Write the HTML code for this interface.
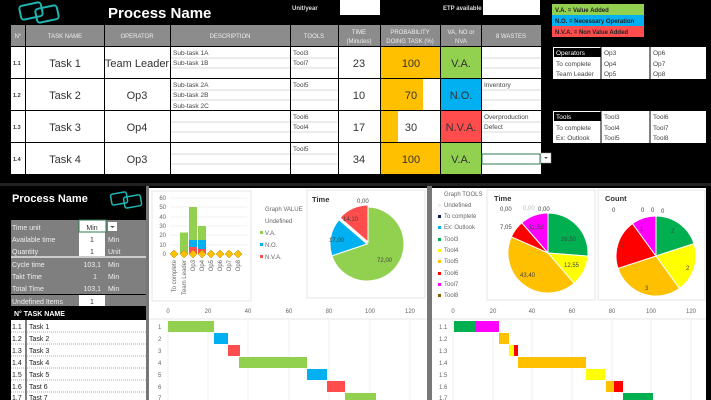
<!DOCTYPE html>
<html><head><meta charset="utf-8"><style>
html,body{margin:0;padding:0;background:#000;}
svg{display:block;font-family:"Liberation Sans",sans-serif;}
</style></head><body>
<svg width="711" height="400" viewBox="0 0 711 400" xmlns="http://www.w3.org/2000/svg">
<rect width="711" height="400" fill="#000"/>
<!-- TOP -->
<g fill="none" stroke="#1fb5b0" stroke-width="2"><rect x="20" y="4" width="22" height="14" rx="3" transform="rotate(-12 31 11)"/><rect x="36" y="7" width="22" height="14" rx="3" transform="rotate(-12 47 14)"/></g>
<text x="108" y="18" fill="#fff" font-size="15" font-weight="bold">Process Name</text>
<text x="292" y="10" fill="#ddd" font-size="6" font-weight="bold">Unit/year</text>
<rect x="340" y="0" width="40" height="15" fill="#fff"/>
<text x="443" y="10" fill="#ddd" font-size="6" font-weight="bold">ETP available</text>
<rect x="483" y="0" width="57" height="15" fill="#fff"/>
<rect x="552" y="4" width="92" height="11" fill="#92d050"/><rect x="552" y="15" width="92" height="11" fill="#00b0f0"/><rect x="552" y="26" width="92" height="11" fill="#ff4d4d"/>
<g font-size="6" font-weight="bold" fill="#222"><text x="555" y="12">V.A. = Value Added</text><text x="555" y="23">N.O. = Necessary Operation</text><text x="555" y="34">N.V.A. = Non Value Added</text></g>
<!-- header -->
<g fill="#8c8c8c"><rect x="11" y="25" width="14" height="21"/><rect x="26" y="25" width="78" height="21"/><rect x="105" y="25" width="65" height="21"/><rect x="171" y="25" width="119" height="21"/><rect x="291" y="25" width="47" height="21"/><rect x="339" y="25" width="41" height="21"/><rect x="381" y="25" width="59" height="21"/><rect x="441" y="25" width="40" height="21"/><rect x="482" y="25" width="59" height="21"/></g>
<g fill="#eee" font-size="6" text-anchor="middle"><text x="18" y="38">N°</text><text x="65" y="38">TASK NAME</text><text x="137" y="38">OPERATOR</text><text x="230" y="38">DESCRIPTION</text><text x="314" y="38">TOOLS</text><text x="359" y="34">TIME</text><text x="359" y="43">(Minutes)</text><text x="410" y="34">PROBABILITY</text><text x="410" y="43">DOING TASK (%)</text><text x="461" y="34">VA, NO or</text><text x="461" y="43">NVA</text><text x="511" y="38">8 WASTES</text></g>
<!-- rows -->
<g id="rows">
<g fill="#fff">
<rect x="11" y="47" width="14" height="31"/><rect x="26" y="47" width="78" height="31"/><rect x="105" y="47" width="65" height="31"/><rect x="171" y="47" width="119" height="31"/><rect x="291" y="47" width="47" height="31"/><rect x="339" y="47" width="41" height="31"/><rect x="381" y="47" width="59" height="31"/><rect x="482" y="47" width="59" height="31"/>
<rect x="11" y="79" width="14" height="31"/><rect x="26" y="79" width="78" height="31"/><rect x="105" y="79" width="65" height="31"/><rect x="171" y="79" width="119" height="31"/><rect x="291" y="79" width="47" height="31"/><rect x="339" y="79" width="41" height="31"/><rect x="381" y="79" width="59" height="31"/><rect x="482" y="79" width="59" height="31"/>
<rect x="11" y="111" width="14" height="31"/><rect x="26" y="111" width="78" height="31"/><rect x="105" y="111" width="65" height="31"/><rect x="171" y="111" width="119" height="31"/><rect x="291" y="111" width="47" height="31"/><rect x="339" y="111" width="41" height="31"/><rect x="381" y="111" width="59" height="31"/><rect x="482" y="111" width="59" height="31"/>
<rect x="11" y="143" width="14" height="31"/><rect x="26" y="143" width="78" height="31"/><rect x="105" y="143" width="65" height="31"/><rect x="171" y="143" width="119" height="31"/><rect x="291" y="143" width="47" height="31"/><rect x="339" y="143" width="41" height="31"/><rect x="381" y="143" width="59" height="31"/><rect x="482" y="143" width="59" height="31"/>
</g>
<rect x="381" y="47" width="59" height="31" fill="#ffc000"/><rect x="381" y="79" width="42" height="31" fill="#ffc000"/><rect x="381" y="111" width="17" height="31" fill="#ffc000"/><rect x="381" y="143" width="59" height="31" fill="#ffc000"/>
<rect x="441" y="47" width="40" height="31" fill="#92d050"/><rect x="441" y="79" width="40" height="31" fill="#00b0f0"/><rect x="441" y="111" width="40" height="31" fill="#ff4d4d"/><rect x="441" y="143" width="40" height="31" fill="#92d050"/>
<g stroke="#ccc" stroke-width="0.7">
<path d="M171 58H290M171 68H290M291 58H338M291 68H338M482 58H541M482 68H541M171 90H290M171 100H290M291 90H338M291 100H338M482 90H541M482 100H541M171 122H290M171 132H290M291 122H338M291 132H338M482 122H541M482 132H541M171 154H290M171 164H290M291 154H338M291 164H338M482 154H541M482 164H541"/>
</g>
<rect x="482" y="154" width="58" height="10" fill="none" stroke="#2e7d4f" stroke-width="1"/>
<rect x="541" y="153" width="10" height="10" fill="#fff" stroke="#999" stroke-width="0.5"/><path d="M544 157h4l-2 2z" fill="#555"/>
<g font-size="5.5" fill="#333" font-weight="bold"><text x="13" y="65">1.1</text><text x="13" y="97">1.2</text><text x="13" y="129">1.3</text><text x="13" y="161">1.4</text></g>
<g font-size="11" fill="#333" text-anchor="middle"><text x="65" y="67">Task 1</text><text x="65" y="99">Task 2</text><text x="65" y="131">Task 3</text><text x="65" y="163">Task 4</text>
<text x="137" y="67">Team Leader</text><text x="137" y="99">Op3</text><text x="137" y="131">Op4</text><text x="137" y="163">Op3</text>
<text x="359" y="67">23</text><text x="359" y="99">10</text><text x="359" y="131">17</text><text x="359" y="163">34</text>
<text x="411" y="67">100</text><text x="411" y="99">70</text><text x="411" y="131">30</text><text x="411" y="163">100</text>
<text x="461" y="67">V.A.</text><text x="461" y="99">N.O.</text><text x="461" y="131">N.V.A.</text><text x="461" y="163">V.A.</text></g>
<g font-size="6.5" fill="#444"><text x="173" y="55">Sub-task 1A</text><text x="173" y="65">Sub-task 1B</text><text x="173" y="87">Sub-task 2A</text><text x="173" y="97">Sub-task 2B</text><text x="173" y="108">Sub-task 2C</text>
<text x="293" y="55">Tool3</text><text x="293" y="65">Tool7</text><text x="293" y="87">Tool5</text><text x="293" y="119">Tool6</text><text x="293" y="129">Tool4</text><text x="293" y="151">Tool5</text>
<text x="484" y="87">Inventory</text><text x="484" y="119">Overproduction</text><text x="484" y="129">Defect</text></g>
</g>
<!-- operators/tools boxes -->
<rect x="553" y="47" width="153" height="32" fill="#fff"/><rect x="553" y="111" width="153" height="32" fill="#fff"/>
<rect x="554" y="48" width="47" height="9" fill="#000"/><rect x="554" y="112" width="47" height="9" fill="#000"/>
<path d="M601 47V79M650 47V79M601 111V143M650 111V143" stroke="#000" stroke-width="1"/>
<g font-size="6.5" fill="#444"><text x="556" y="55" fill="#fff">Operators</text><text x="556" y="66">To complete</text><text x="556" y="76">Team Leader</text><text x="604" y="55">Op3</text><text x="604" y="66">Op4</text><text x="604" y="76">Op5</text><text x="653" y="55">Op6</text><text x="653" y="66">Op7</text><text x="653" y="76">Op8</text>
<text x="556" y="119" fill="#fff">Tools</text><text x="556" y="130">To complete</text><text x="556" y="140">Ex: Outlook</text><text x="604" y="119">Tool3</text><text x="604" y="130">Tool4</text><text x="604" y="140">Tool5</text><text x="653" y="119">Tool6</text><text x="653" y="130">Tool7</text><text x="653" y="140">Tool8</text></g>

<!-- BOTTOM -->
<rect x="0" y="183" width="711" height="3" fill="#222"/>
<text x="12" y="202" fill="#fff" font-size="11" font-weight="bold">Process Name</text>
<g fill="none" stroke="#1fb5b0" stroke-width="1.5"><rect x="111" y="193" width="16" height="11" rx="2" transform="rotate(-10 119 198)"/><rect x="124" y="196" width="17" height="11" rx="2" transform="rotate(-10 132 201)"/></g>
<rect x="11" y="220" width="136" height="74" fill="#7f7f7f"/>
<rect x="11" y="256" width="136" height="2" fill="#ccc"/>
<rect x="79" y="220" width="26" height="36" fill="#fff"/>
<rect x="79" y="220" width="27" height="12" fill="#fff" stroke="#2e7d4f" stroke-width="1"/>
<rect x="108" y="222" width="9" height="9" fill="#fff"/><path d="M110 226h5l-2.5 2z" fill="#555"/>
<rect x="11" y="295" width="136" height="11" fill="#7f7f7f"/><rect x="79" y="295" width="26" height="11" fill="#fff"/>
<g font-size="7" fill="#eee"><text x="12" y="230">Time unit</text><text x="12" y="242">Available time</text><text x="12" y="254">Quantity</text><text x="12" y="267">Cycle time</text><text x="12" y="279">Takt Time</text><text x="12" y="291">Total Time</text><text x="12" y="304">Undefined Items</text>
<text x="108" y="242">Min</text><text x="108" y="254">Unit</text><text x="108" y="267">Min</text><text x="108" y="279">Min</text><text x="108" y="291">Min</text>
<text x="101" y="267" text-anchor="end">103,1</text><text x="97" y="279" text-anchor="end">1</text><text x="101" y="291" text-anchor="end">103,1</text></g>
<g font-size="7" fill="#333" text-anchor="middle"><text x="92" y="230">Min</text><text x="92" y="242">1</text><text x="92" y="254">1</text><text x="92" y="304">1</text></g>
<text x="14" y="316" fill="#fff" font-size="7" font-weight="bold">N°  TASK NAME</text>
<rect x="11" y="320" width="135" height="80" fill="#fff"/>
<path d="M26 320V400" stroke="#000" stroke-width="1"/>
<g stroke="#555" stroke-width="0.6" stroke-dasharray="1,1"><path d="M11 332H146M11 344H146M11 356H146M11 368H146M11 380H146M11 392H146"/></g>
<g font-size="7" fill="#222"><text x="12" y="329">1.1</text><text x="29" y="329">Task 1</text><text x="12" y="341">1.2</text><text x="29" y="341">Task 2</text><text x="12" y="353">1.3</text><text x="29" y="353">Task 3</text><text x="12" y="365">1.4</text><text x="29" y="365">Task 4</text><text x="12" y="377">1.5</text><text x="29" y="377">Task 5</text><text x="12" y="389">1.6</text><text x="29" y="389">Tast 6</text><text x="12" y="400">1.7</text><text x="29" y="400">Tast 7</text></g>
<rect x="146" y="186" width="3" height="214" fill="#777"/>

<!-- middle chart area -->
<rect x="149" y="188" width="278" height="212" fill="#fff"/>
<rect x="152" y="191" width="99" height="110" fill="#fff" stroke="#e4e4e4"/>
<rect x="307" y="190" width="118" height="108" fill="#fff" stroke="#e4e4e4"/>
<g stroke="#e6e6e6" stroke-width="0.6"><path d="M170 198H247M170 207H247M170 217H247M170 226H247M170 235H247M170 245H247M170 254H247"/></g>
<g font-size="6" fill="#666" text-anchor="end"><text x="166" y="200">60</text><text x="166" y="209">50</text><text x="166" y="219">40</text><text x="166" y="228">30</text><text x="166" y="237">20</text><text x="166" y="247">10</text><text x="166" y="256">0</text></g>
<rect x="180" y="232.5" width="8" height="21.5" fill="#92d050"/>
<rect x="189" y="207" width="8" height="47" fill="#92d050"/><rect x="189" y="240" width="8" height="14" fill="#00b0f0"/><rect x="189" y="247" width="8" height="7" fill="#ff4d4d"/>
<rect x="198" y="226" width="8" height="28" fill="#92d050"/><rect x="198" y="240" width="8" height="14" fill="#00b0f0"/><rect x="198" y="249" width="8" height="5" fill="#ff4d4d"/>
<g fill="#ffc000" stroke="#b8860b" stroke-width="0.5">
<path d="M174 250l4 4-4 4-4-4z"/><path d="M184 250l4 4-4 4-4-4z"/><path d="M193 250l4 4-4 4-4-4z"/><path d="M202 250l4 4-4 4-4-4z"/><path d="M211 250l4 4-4 4-4-4z"/><path d="M220 250l4 4-4 4-4-4z"/><path d="M229 250l4 4-4 4-4-4z"/><path d="M238 250l4 4-4 4-4-4z"/></g>
<g font-size="6" fill="#666" text-anchor="end">
<text transform="translate(176,260) rotate(-90)">To complete</text><text transform="translate(186,260) rotate(-90)">Team Leader</text><text transform="translate(195,260) rotate(-90)">Op3</text><text transform="translate(204,260) rotate(-90)">Op4</text><text transform="translate(213,260) rotate(-90)">Op5</text><text transform="translate(222,260) rotate(-90)">Op6</text><text transform="translate(231,260) rotate(-90)">Op7</text><text transform="translate(240,260) rotate(-90)">Op8</text></g>
<g font-size="6" fill="#666"><text x="265" y="211">Graph VALUE</text><text x="265" y="223">Undefined</text><text x="265" y="235">V.A.</text><text x="265" y="247">N.O.</text><text x="265" y="259">N.V.A.</text></g>
<rect x="260" y="231" width="3" height="3" fill="#92d050"/><rect x="260" y="243" width="3" height="3" fill="#00b0f0"/><rect x="260" y="255" width="3" height="3" fill="#ff4d4d"/>
<text x="312" y="202" font-size="7.5" fill="#333" font-weight="bold">Time</text>
<text x="357" y="203" font-size="6" fill="#444">0,00</text>
<g stroke="#fff" stroke-width="1">
<path d="M367 244L367 207A37 37 0 1 1 331.9 255.8Z" fill="#92d050"/>
<path d="M367 244L331.9 255.8A37 37 0 0 1 339 219.8Z" fill="#00b0f0"/>
<path d="M368 242L340 217.8A37 37 0 0 1 368 205Z" fill="#ff4d4d"/></g>
<g font-size="6" fill="#444"><text x="377" y="262">72,00</text><text x="329" y="242">17,00</text><text x="343" y="221">14,10</text></g>
<g font-size="6" fill="#666" text-anchor="middle"><text x="168" y="313">0</text><text x="208" y="313">20</text><text x="248" y="313">40</text><text x="289" y="313">60</text><text x="329" y="313">80</text><text x="370" y="313">100</text><text x="410" y="313">120</text></g>
<path d="M149 319H427" stroke="#ddd" stroke-width="0.8"/>
<g stroke="#e6e6e6" stroke-width="0.6"><path d="M168 320V400M208 320V400M248 320V400M289 320V400M329 320V400M370 320V400M410 320V400"/></g>
<g font-size="6" fill="#666"><text x="158" y="329">1</text><text x="158" y="341">2</text><text x="158" y="353">3</text><text x="158" y="365">4</text><text x="158" y="377">5</text><text x="158" y="389">6</text><text x="158" y="400">7</text></g>
<rect x="168" y="321" width="46" height="11" fill="#92d050"/><rect x="214" y="333" width="14" height="11" fill="#00b0f0"/><rect x="228" y="345" width="12" height="11" fill="#ff4d4d"/><rect x="239" y="357" width="68" height="11" fill="#92d050"/><rect x="307" y="369" width="20" height="11" fill="#00b0f0"/><rect x="327" y="381" width="18" height="11" fill="#ff4d4d"/><rect x="345" y="393" width="31" height="7" fill="#92d050"/>

<rect x="427" y="186" width="5" height="214" fill="#777"/>
<!-- right chart area -->
<rect x="432" y="188" width="274" height="212" fill="#fff"/>
<rect x="487" y="190" width="108" height="110" fill="#fff" stroke="#e4e4e4"/>
<rect x="598" y="190" width="107" height="110" fill="#fff" stroke="#e4e4e4"/>
<g font-size="6" fill="#666"><text x="444" y="196">Graph TOOLS</text><text x="444" y="207">Undefined</text><text x="444" y="218">To complete</text><text x="444" y="229">Ex: Outlook</text><text x="444" y="241">Tool3</text><text x="444" y="252">Tool4</text><text x="444" y="263">Tool5</text><text x="444" y="275">Tool6</text><text x="444" y="286">Tool7</text><text x="444" y="297">Tool8</text></g>
<rect x="438" y="204" width="3" height="3" fill="#eee"/><rect x="438" y="215" width="3" height="3" fill="#0d1f4f"/><rect x="438" y="226" width="3" height="3" fill="#00b0f0"/><rect x="438" y="238" width="3" height="3" fill="#00b050"/><rect x="438" y="249" width="3" height="3" fill="#ffff00"/><rect x="438" y="260" width="3" height="3" fill="#ffc000"/><rect x="438" y="272" width="3" height="3" fill="#ff0000"/><rect x="438" y="283" width="3" height="3" fill="#ff00ff"/><rect x="438" y="294" width="3" height="3" fill="#7f6000"/>
<text x="494" y="201" font-size="7.5" fill="#333" font-weight="bold">Time</text>
<text x="605" y="201" font-size="7.5" fill="#333" font-weight="bold">Count</text>
<g stroke="#fff" stroke-width="1">
<path d="M548 253L548 213A40 40 0 0 1 587.9 256.1Z" fill="#00b050"/>
<path d="M548 253L587.9 256.1A40 40 0 0 1 574.1 283.3Z" fill="#ffff00"/>
<path d="M548 253L574.1 283.3A40 40 0 0 1 511.4 236.8Z" fill="#ffc000"/>
<path d="M548 253L511.4 236.8A40 40 0 0 1 521.8 222.8Z" fill="#ff0000"/>
<path d="M548 253L521.8 222.8A40 40 0 0 1 548 213Z" fill="#ff00ff"/>
<path d="M656 256L656 216A40 40 0 0 1 694 243.6Z" fill="#00b050"/>
<path d="M656 256L694 243.6A40 40 0 0 1 679.5 288.4Z" fill="#ffff00"/>
<path d="M656 256L679.5 288.4A40 40 0 0 1 618 268.4Z" fill="#ffc000"/>
<path d="M656 256L618 268.4A40 40 0 0 1 632.5 223.6Z" fill="#ff0000"/>
<path d="M656 256L632.5 223.6A40 40 0 0 1 656 216Z" fill="#ff00ff"/></g>
<g font-size="6" fill="#444"><text x="500" y="211">0,00</text><text x="523" y="210" fill="#bbb">0,00</text><text x="538" y="211">0,00</text><text x="500" y="229">7,05</text><text x="529" y="229">11,50</text><text x="561" y="241">26,50</text><text x="564" y="267">12,55</text><text x="520" y="277">43,40</text>
<text x="612" y="212">0</text><text x="641" y="212">0</text><text x="651" y="212">0</text><text x="661" y="213">0</text><text x="640" y="231">1</text><text x="671" y="233">2</text><text x="686" y="270">2</text><text x="645" y="290">3</text><text x="621" y="247">2</text></g>
<g font-size="6" fill="#666" text-anchor="middle"><text x="453" y="313">0</text><text x="493" y="313">20</text><text x="532" y="313">40</text><text x="572" y="313">60</text><text x="612" y="313">80</text><text x="651" y="313">100</text><text x="691" y="313">120</text></g>
<path d="M432 319H706" stroke="#ddd" stroke-width="0.8"/>
<g stroke="#e6e6e6" stroke-width="0.6"><path d="M453 320V400M493 320V400M532 320V400M572 320V400M612 320V400M651 320V400M691 320V400"/></g>
<g font-size="6" fill="#666"><text x="439" y="329">1.1</text><text x="439" y="341">1.2</text><text x="439" y="353">1.3</text><text x="439" y="365">1.4</text><text x="439" y="377">1.5</text><text x="439" y="389">1.6</text><text x="439" y="400">1.7</text></g>
<rect x="454" y="321" width="22" height="11" fill="#00b050"/><rect x="476" y="321" width="23" height="11" fill="#ff00ff"/>
<rect x="499" y="333" width="10" height="11" fill="#ffc000"/>
<rect x="509" y="345" width="5" height="11" fill="#ffff00"/><rect x="514" y="345" width="4" height="11" fill="#ff0000"/>
<rect x="518" y="357" width="68" height="11" fill="#ffc000"/>
<rect x="586" y="369" width="19" height="11" fill="#ffff00"/>
<rect x="606" y="381" width="8" height="11" fill="#ffc000"/><rect x="614" y="381" width="9" height="11" fill="#ff0000"/>
<rect x="623" y="393" width="30" height="7" fill="#00b050"/>
</svg>
</body></html>
